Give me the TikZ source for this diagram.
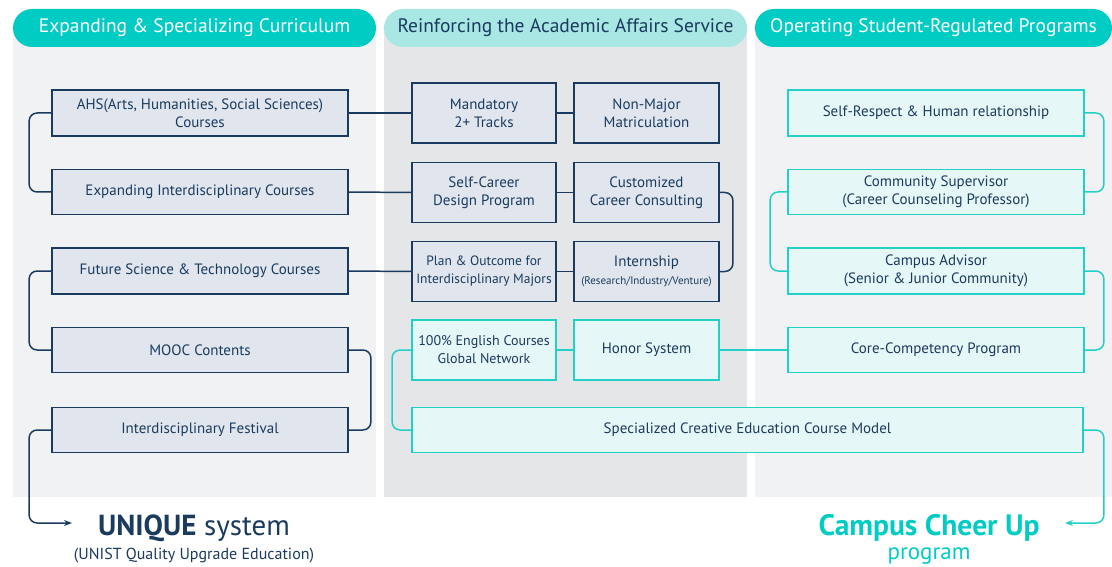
\documentclass[tikz,border=0pt]{standalone}
\usepackage{fontspec}
\setmainfont{PT Sans}
\usetikzlibrary{arrows.meta}
\definecolor{hdteal}{HTML}{00CCC4}
\definecolor{hdlight}{HTML}{A8E7E3}
\definecolor{navy}{HTML}{1B3B5E}
\definecolor{navyfill}{HTML}{E0E5EE}
\definecolor{tealline}{HTML}{22D0C8}
\definecolor{tealfill}{HTML}{E6F7F7}
\definecolor{panelA}{HTML}{F1F2F4}
\definecolor{panelB}{HTML}{E5E6E8}
\begin{document}
\begin{tikzpicture}[x=1pt, y=-1pt,
  header/.style={rounded corners=19pt, minimum height=38pt, inner sep=0pt, font=\fontsize{19.5}{22}\selectfont},
  navybox/.style={draw=navy, line width=1.8pt, fill=navyfill, text=navy, align=center, inner sep=0pt, font=\fontsize{15}{18}\selectfont},
  tealbox/.style={draw=tealline, line width=1.8pt, fill=tealfill, text=navy, align=center, inner sep=0pt, font=\fontsize{15}{18}\selectfont},
  navyline/.style={draw=navy, line width=1.5pt, rounded corners=8pt},
  tealline/.style={draw=tealline, line width=1.5pt, rounded corners=8pt},
  result/.style={anchor=base, inner sep=0pt}]
\useasboundingbox (0,0) rectangle (1112,567);
\fill[panelA] (13,28) rectangle (376,497);
\fill[panelB] (384,28) rectangle (747,497);
\fill[panelA] (755,28) rectangle (1112,497);
\node[header, fill=hdteal, text=white, minimum width=363pt] (H1) at (194.5,28) {Expanding \& Specializing Curriculum};
\node[header, fill=hdlight, text=navy, minimum width=363pt] (H2) at (565.5,28) {Reinforcing the Academic Affairs Service};
\node[header, fill=hdteal, text=white, minimum width=357pt] (H3) at (933.5,28) {Operating Student-Regulated Programs};
\node[navybox, minimum width=296pt, minimum height=46pt] (C1N1) at (200,113) {AHS(Arts, Humanities, Social Sciences)\\Courses};
\node[navybox, minimum width=296pt, minimum height=45pt] (C1N2) at (200,192) {Expanding Interdisciplinary Courses};
\node[navybox, minimum width=296pt, minimum height=46pt] (C1N3) at (200,271) {Future Science \& Technology Courses};
\node[navybox, minimum width=296pt, minimum height=45pt] (C1N4) at (200,350) {MOOC Contents};
\node[navybox, minimum width=296pt, minimum height=45pt] (C1N5) at (200,430) {Interdisciplinary Festival};
\node[navybox, minimum width=144pt, minimum height=60pt] (C2N1) at (484,113) {Mandatory\\2+ Tracks};
\node[navybox, minimum width=145pt, minimum height=60pt] (C2N2) at (646.5,113) {Non-Major\\Matriculation};
\node[navybox, minimum width=144pt, minimum height=60pt] (C2N3) at (484,192.5) {Self-Career\\Design Program};
\node[navybox, minimum width=145pt, minimum height=60pt] (C2N4) at (646.5,192.5) {Customized\\Career Consulting};
\node[navybox, minimum width=144pt, minimum height=60pt, font=\fontsize{13.5}{18}\selectfont] (C2N5) at (484,271.5) {Plan \& Outcome for\\Interdisciplinary Majors};
\node[navybox, minimum width=145pt, minimum height=60pt] (C2N6) at (646.5,271.5) {Internship\\{\fontsize{11}{13}\selectfont(Research/Industry/Venture)}};
\node[tealbox, minimum width=144pt, minimum height=60pt, font=\fontsize{14}{18}\selectfont] (C2N7) at (484,350) {100\% English Courses\\Global Network};
\node[tealbox, minimum width=145pt, minimum height=60pt] (C2N8) at (646.5,350) {Honor System};
\node[tealbox, minimum width=671pt, minimum height=45pt] (C2N9) at (747.5,430) {Specialized Creative Education Course Model};
\node[tealbox, minimum width=296pt, minimum height=46pt] (C3N1) at (936,113) {Self-Respect \& Human relationship};
\node[tealbox, minimum width=296pt, minimum height=45pt] (C3N2) at (936,192) {Community Supervisor\\(Career Counseling Professor)};
\node[tealbox, minimum width=296pt, minimum height=46pt] (C3N3) at (936,271) {Campus Advisor\\(Senior \& Junior Community)};
\node[tealbox, minimum width=296pt, minimum height=45pt] (C3N4) at (936,350) {Core-Competency Program};
\node[result, text=navy, font=\fontsize{29}{32}\selectfont] (U1) at (194,535) {\textbf{UNIQUE} system};
\node[result, text=navy, font=\fontsize{16}{19}\selectfont] (U2) at (194,559) {(UNIST Quality Upgrade Education)};
\node[result, text=hdteal, font=\fontsize{29.5}{32}\selectfont\bfseries] (P1) at (929,535) {Campus Cheer Up};
\node[result, text=hdteal, font=\fontsize{23}{26}\selectfont] (P2) at (929,559) {program};
\coordinate (UA) at (72,523);
\coordinate (PA) at (1065,523);
\draw[navyline] (C1N1.west) -- ++(-22,0) |- (C1N2.west);
\draw[navyline] (C1N3.west) -- ++(-22,0) |- (C1N4.west);
\draw[navyline] (C1N4.east) -- ++(22,0) |- (C1N5.east);
\draw[navyline, -{Stealth[length=8pt, width=6pt]}] (C1N5.west) -- ++(-22,0) |- (UA);
\draw[navyline] (C1N1.east) -- (C2N1.west);
\draw[navyline] (C1N2.east) -- (C2N3.west);
\draw[navyline] (C1N3.east) -- (C2N5.west);
\draw[navyline] (C2N1.east) -- (C2N2.west);
\draw[navyline] (C2N3.east) -- (C2N4.west);
\draw[navyline] (C2N5.east) -- (C2N6.west);
\draw[navyline] (C2N4.east) -- ++(13,0) |- (C2N6.east);
\draw[tealline] (C2N7.east) -- (C2N8.west);
\draw[tealline] (C2N8.east) -- (C3N4.west);
\draw[tealline] (C2N7.west) -- ++(-19,0) |- (C2N9.west);
\draw[tealline] (C3N1.east) -- ++(19,0) |- (C3N2.east);
\draw[tealline] (C3N2.west) -- ++(-17,0) |- (C3N3.west);
\draw[tealline] (C3N3.east) -- ++(19,0) |- (C3N4.east);
\draw[tealline, -{Stealth[length=8pt, width=6pt]}] (C2N9.east) -- ++(20,0) |- (PA);
\end{tikzpicture}
\end{document}
